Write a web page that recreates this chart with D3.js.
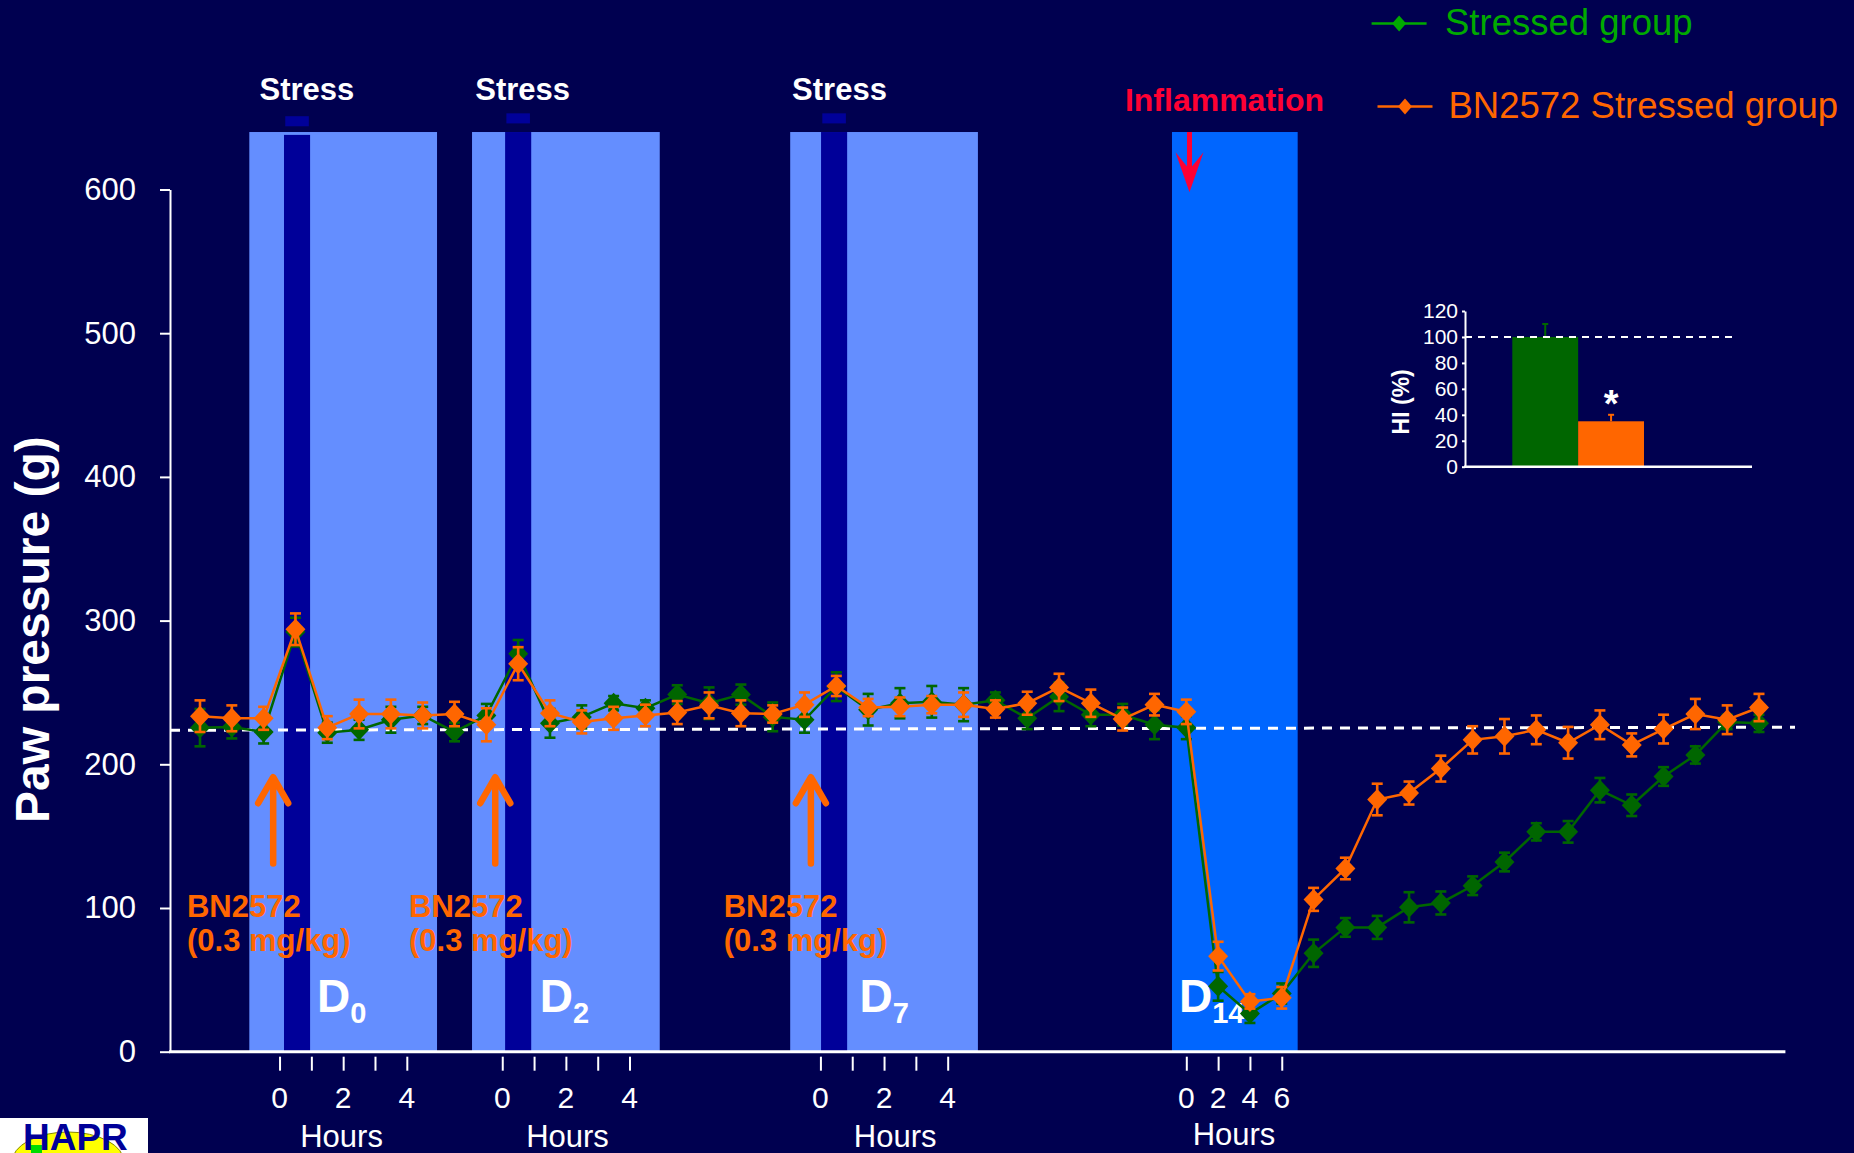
<!DOCTYPE html>
<html>
<head>
<meta charset="utf-8">
<script src="https://cdn.jsdelivr.net/npm/d3@7/dist/d3.min.js"></script>
<style>
  html, body { margin: 0; padding: 0; background: #000050; }
  svg { display: block; }
  text { font-family: "Liberation Sans", Arial, sans-serif; }
</style>
</head>
<body>
<svg id="chart" width="1854" height="1153"></svg>
<script>
// Paw pressure time course: sessions are plotted at evenly spaced indices.
const sessionIndex = d3.range(50);

// Stressed group (mean ± SEM, g)
const stressedMean = [225.5, 226, 222.5, 292, 222, 224, 231, 234, 222.5, 234,
  277, 228.5, 233, 242.5, 239, 248.5, 242.5, 248.5, 233, 231,
  254, 238, 242.5, 243.5, 241.5, 244.5, 232, 247, 234.5, 234.5,
  227.5, 225.5, 45.5, 26.5, 40.5, 68.5, 86.5, 86.5, 100.5, 103.5,
  115.5, 132, 153, 153, 182, 171.5, 191.5, 206.5, 229.5, 228.5];
const stressedErr = [13, 8, 8, 10, 7, 7, 9, 6, 6.5, 8,
  9.5, 10, 8, 5, 5.5, 6.5, 11, 7, 10, 9,
  10, 11, 10.5, 11, 11.5, 5.5, 7.5, 10, 8, 7.5,
  10, 8, 10, 6.5, 7, 9.5, 6.5, 8, 10.5, 8,
  6.5, 6.5, 6, 7.5, 8.5, 7.5, 6.5, 6, 5, 6];

// BN2572 stressed group (mean ± SEM, g)
const bnMean = [233.5, 232, 232, 294, 225.5, 235, 235, 234, 235, 227.5,
  270, 235.5, 229.5, 232, 234, 236, 241, 235.5, 235, 241.5,
  254.5, 239.5, 240, 241.5, 241.5, 238.5, 242.5, 253.5, 242.5, 231.5,
  241.5, 236.5, 66.5, 35, 37.5, 106, 127.5, 175.5, 180, 197,
  217, 219.5, 224, 215, 227.5, 213.5, 224.5, 235, 231, 239.5];
const bnErr = [11, 9, 8, 11, 8, 10, 10, 9, 8.5, 11.5,
  11.5, 9, 8, 8, 7.5, 8, 9, 9, 6, 8.5,
  7, 6, 6.5, 6, 8.5, 6, 8, 9.5, 9.5, 8,
  7.5, 8.5, 10, 5, 7.5, 8, 7.5, 11, 8, 9,
  9.5, 12, 10, 11, 10, 8, 10, 10.5, 10, 9.5];

// Basal threshold reference (start, end)
const basalLevel = [223.7, 225.8];

const yTicks = [0, 100, 200, 300, 400, 500, 600];

// Experimental days: stress sessions and inflammation (index ranges)
const dayNames = ["0", "2", "7", "14"];
const dayRanges = [[1.55, 7.45], [8.55, 14.45], [18.55, 24.45], [30.55, 34.5]];
const stressIndex = [3.05, 10.0, 19.93];
const doseIndex = [2.3, 9.28, 19.2];
const doseLabelIndex = [-0.41, 6.57, 16.46];
const dayLabelIndex = [3.68, 10.68, 20.73, 30.77];
const inflammationIndex = 31.1;

// Hour ticks under each day
const hourTickIdx = [2.5, 3.5, 4.5, 5.5, 6.5, 9.5, 10.5, 11.5, 12.5, 13.5,
  19.5, 20.5, 21.5, 22.5, 23.5, 31, 32, 33, 34];
const hourLabelIdx = [2.5, 4.5, 6.5, 9.5, 11.5, 13.5, 19.5, 21.5, 23.5, 31, 32, 33, 34];
const hourLabels = ["0", "2", "4", "0", "2", "4", "0", "2", "4", "0", "2", "4", "6"];
const hoursTitleIdx = [4.45, 11.55, 21.85, 32.5];

// Hyperalgesia index inset
const hiGroups = ["Stressed group", "BN2572 Stressed group"];
const hiValues = [100, 35];
const hiErr = [10, 5];
const hiTicks = [0, 20, 40, 60, 80, 100, 120];

const seriesNames = ["Stressed group", "BN2572 Stressed group"];

// ---------------------------------------------------------------
const C = {
  bg: "#000050", band: "#648EFF", stressBar: "#000099", inflam: "#0066FF",
  green: "#006600", legendGreen: "#00AA00", orange: "#FF6600", red: "#FF0033", white: "#FFFFFF"
};

const svg = d3.select("#chart");
svg.append("rect").attr("width", 1854).attr("height", 1153).attr("fill", C.bg);

const x = d3.scaleLinear().domain([0, 49]).range([200, 1759]);
const y = d3.scaleLinear().domain([0, 600]).range([1051.7, 189.5]);
const step = x(1) - x(0);

// Day panels
const g = svg.append("g");
g.selectAll("rect.day").data(dayRanges).join("rect")
  .attr("class", "day")
  .attr("x", d => x(d[0])).attr("width", d => x(d[1]) - x(d[0]))
  .attr("y", y(640)).attr("height", y(0) - y(640))
  .attr("fill", (d, i) => i === 3 ? C.inflam : C.band);

// Stress exposure bars
g.selectAll("rect.stress").data(stressIndex).join("rect")
  .attr("class", "stress")
  .attr("x", d => x(d) - step * 0.41).attr("width", step * 0.82)
  .attr("y", (d, i) => y(i === 0 ? 638 : 640)).attr("height", (d, i) => y(0) - y(i === 0 ? 638 : 640))
  .attr("fill", C.stressBar);
g.selectAll("rect.stressMark").data(stressIndex).join("rect")
  .attr("class", "stressMark")
  .attr("x", d => x(d) - step * 0.37).attr("width", step * 0.74)
  .attr("y", (d, i) => y(i === 0 ? 651 : 653)).attr("height", y(644) - y(651))
  .attr("fill", C.stressBar);

g.selectAll("text.stressLabel").data(stressIndex).join("text")
  .attr("class", "stressLabel")
  .attr("x", (d, i) => x([3.36, 10.14, 20.1][i])).attr("y", y(662))
  .attr("text-anchor", "middle").attr("fill", C.white)
  .attr("font-size", 31).attr("font-weight", "bold").text("Stress");

// Inflammation label and arrow
const ix = x(inflammationIndex);
svg.append("text").attr("x", x(32.2)).attr("y", y(654.6))
  .attr("text-anchor", "middle").attr("fill", C.red)
  .attr("font-size", 32).attr("font-weight", "bold").text("Inflammation");
svg.append("rect").attr("x", ix - 2.5).attr("y", y(640)).attr("width", 5).attr("height", 42).attr("fill", C.red);
svg.append("path")
  .attr("d", `M${ix - 14},${y(626)} L${ix},${y(598)} L${ix + 14},${y(626)} L${ix},${y(614)} Z`)
  .attr("fill", C.red);

// Dose arrows and labels
doseIndex.forEach(d => {
  const ax = x(d), top = y(191), bot = y(131);
  svg.append("path")
    .attr("d", `M${ax},${bot} L${ax},${top + 2} M${ax - 15},${top + 26} L${ax},${top} L${ax + 15},${top + 26}`)
    .attr("fill", "none").attr("stroke", C.orange).attr("stroke-width", 6.5)
    .attr("stroke-linecap", "round").attr("stroke-linejoin", "round");
});
doseLabelIndex.forEach(d => {
  const t = svg.append("text").attr("x", x(d)).attr("fill", C.orange)
    .attr("font-size", 31).attr("font-weight", "bold");
  t.append("tspan").attr("x", x(d)).attr("y", y(93.7)).text("BN2572");
  t.append("tspan").attr("x", x(d)).attr("y", y(70)).text("(0.3 mg/kg)");
});

// Day labels
dayLabelIndex.forEach((d, i) => {
  const t = svg.append("text").attr("x", x(d)).attr("y", y(27.6))
    .attr("fill", C.white).attr("font-size", 46).attr("font-weight", "bold");
  t.append("tspan").text("D");
  t.append("tspan").attr("dy", 11).attr("font-size", 29).text(dayNames[i]);
});

// Basal reference line
svg.append("line")
  .attr("x1", 170).attr("x2", 1795)
  .attr("y1", y(basalLevel[0])).attr("y2", y(basalLevel[1]))
  .attr("stroke", C.white).attr("stroke-width", 3).attr("stroke-dasharray", "10,8");

// Axes
const yAxis = d3.axisLeft(y).tickValues(yTicks).tickSize(10).tickSizeOuter(0).tickPadding(24);
const ya = svg.append("g").attr("transform", "translate(170,0)").call(yAxis);
ya.selectAll("path,line").attr("stroke", C.white).attr("stroke-width", 2);
ya.selectAll("text").attr("fill", C.white).attr("font-size", 31)
  .attr("font-family", "Liberation Sans, Arial, sans-serif");

svg.append("line").attr("x1", 169).attr("x2", x(49.83))
  .attr("y1", y(0)).attr("y2", y(0)).attr("stroke", C.white).attr("stroke-width", 3);

const hAxis = d3.axisBottom(x).tickValues(hourTickIdx).tickSize(14).tickFormat("");
const ha = svg.append("g").attr("transform", `translate(0,${y(0) + 5})`).call(hAxis);
ha.select(".domain").remove();
ha.selectAll("line").attr("stroke", C.white).attr("stroke-width", 2);

svg.selectAll("text.hour").data(hourLabelIdx).join("text")
  .attr("class", "hour").attr("x", d => x(d)).attr("y", 1107.5)
  .attr("text-anchor", "middle").attr("fill", C.white).attr("font-size", 30)
  .text((d, i) => hourLabels[i]);
svg.selectAll("text.hoursTitle").data(hoursTitleIdx).join("text")
  .attr("class", "hoursTitle").attr("x", d => x(d)).attr("y", (d, i) => i === 3 ? 1145 : 1147)
  .attr("text-anchor", "middle").attr("fill", C.white).attr("font-size", 31)
  .text("Hours");

svg.append("text")
  .attr("transform", `translate(49,${y(293.7)}) rotate(-90)`)
  .attr("text-anchor", "middle").attr("fill", C.white)
  .attr("font-size", 48).attr("font-weight", "bold").text("Paw pressure (g)");

// Series
const diamond = (cx, cy, w, h) => `M${cx},${cy - h} L${cx + w},${cy} L${cx},${cy + h} L${cx - w},${cy} Z`;

function drawSeries(mean, err, color) {
  const s = svg.append("g");
  const line = d3.line().x((d, i) => x(i)).y(d => y(d));
  s.append("path").datum(mean).attr("d", line)
    .attr("fill", "none").attr("stroke", color).attr("stroke-width", 2.5);
  const eb = s.selectAll("g.eb").data(sessionIndex).join("g").attr("class", "eb")
    .attr("stroke", color).attr("stroke-width", 2.6);
  eb.append("line").attr("x1", i => x(i)).attr("x2", i => x(i))
    .attr("y1", i => y(mean[i] - err[i])).attr("y2", i => y(mean[i] + err[i]));
  eb.append("line").attr("x1", i => x(i) - 5.5).attr("x2", i => x(i) + 5.5)
    .attr("y1", i => y(mean[i] + err[i])).attr("y2", i => y(mean[i] + err[i]));
  eb.append("line").attr("x1", i => x(i) - 5.5).attr("x2", i => x(i) + 5.5)
    .attr("y1", i => y(mean[i] - err[i])).attr("y2", i => y(mean[i] - err[i]));
  s.selectAll("path.pt").data(sessionIndex).join("path").attr("class", "pt")
    .attr("d", i => diamond(x(i), y(mean[i]), 10, 10.5)).attr("fill", color);
}
drawSeries(stressedMean, stressedErr, C.green);
drawSeries(bnMean, bnErr, C.orange);

// Legend
const legend = [
  { name: seriesNames[0], color: C.legendGreen, x1: 1371.6, y: 23.6, tx: 1445, ty: 34.5 },
  { name: seriesNames[1], color: C.orange, x1: 1377.5, y: 106.4, tx: 1448.5, ty: 118 }
];
legend.forEach(l => {
  svg.append("line").attr("x1", l.x1).attr("x2", l.x1 + 55).attr("y1", l.y).attr("y2", l.y)
    .attr("stroke", l.color).attr("stroke-width", 2.5);
  svg.append("path").attr("d", diamond(l.x1 + 27.5, l.y, 7, 8)).attr("fill", l.color);
  svg.append("text").attr("x", l.tx).attr("y", l.ty).attr("fill", l.color)
    .attr("font-size", 36.5).text(l.name);
});

// Inset: hyperalgesia index
const yi = d3.scaleLinear().domain([0, 120]).range([466.7, 311]);
const xi = d3.scaleBand().domain(hiGroups).range([1512.3, 1644]).padding(0);
const ins = svg.append("g");
ins.selectAll("rect").data(hiGroups).join("rect")
  .attr("x", d => xi(d)).attr("width", xi.bandwidth())
  .attr("y", (d, i) => yi(hiValues[i])).attr("height", (d, i) => yi(0) - yi(hiValues[i]))
  .attr("fill", (d, i) => i === 0 ? C.green : C.orange);
hiGroups.forEach((d, i) => {
  const cx = xi(d) + xi.bandwidth() / 2;
  const col = i === 0 ? C.green : C.orange;
  ins.append("line").attr("x1", cx).attr("x2", cx)
    .attr("y1", yi(hiValues[i])).attr("y2", yi(hiValues[i] + hiErr[i]))
    .attr("stroke", col).attr("stroke-width", 2);
  ins.append("line").attr("x1", cx - 3).attr("x2", cx + 3)
    .attr("y1", yi(hiValues[i] + hiErr[i])).attr("y2", yi(hiValues[i] + hiErr[i]))
    .attr("stroke", col).attr("stroke-width", 2);
});
ins.append("line").attr("x1", 1465).attr("x2", 1737).attr("y1", yi(100)).attr("y2", yi(100))
  .attr("stroke", C.white).attr("stroke-width", 2).attr("stroke-dasharray", "7,6");
const yia = ins.append("g").attr("transform", "translate(1465,0)")
  .call(d3.axisLeft(yi).tickValues(hiTicks).tickSize(3).tickSizeOuter(0).tickPadding(4));
yia.selectAll("path,line").attr("stroke", C.white).attr("stroke-width", 2);
yia.selectAll("text").attr("fill", C.white).attr("font-size", 21)
  .attr("font-family", "Liberation Sans, Arial, sans-serif");
ins.append("line").attr("x1", 1464).attr("x2", 1752).attr("y1", yi(0)).attr("y2", yi(0))
  .attr("stroke", C.white).attr("stroke-width", 2.5);
ins.append("text").attr("x", xi(hiGroups[1]) + xi.bandwidth() / 2).attr("y", yi(hiValues[1] + hiErr[1]) + 2)
  .attr("text-anchor", "middle").attr("fill", C.white).attr("font-size", 38).attr("font-weight", "bold").text("*");
ins.append("text").attr("transform", `translate(1409,${yi(50)}) rotate(-90)`)
  .attr("text-anchor", "middle").attr("fill", C.white).attr("font-size", 23).attr("font-weight", "bold")
  .text("HI (%)");

// Laboratory logo
const logo = svg.append("g");
logo.append("rect").attr("x", 0).attr("y", 1118).attr("width", 148).attr("height", 36).attr("fill", C.white);
logo.append("ellipse").attr("cx", 68).attr("cy", 1162).attr("rx", 56).attr("ry", 30)
  .attr("fill", "#FFFF00").attr("stroke", "#888800").attr("stroke-width", 1);
logo.append("rect").attr("x", 31).attr("y", 1145).attr("width", 11).attr("height", 9).attr("fill", "#00DD00");
logo.append("text").attr("x", 23).attr("y", 1150).attr("fill", "#000099")
  .attr("font-size", 37).attr("font-weight", "bold").text("HAPR");
</script>
</body>
</html>
